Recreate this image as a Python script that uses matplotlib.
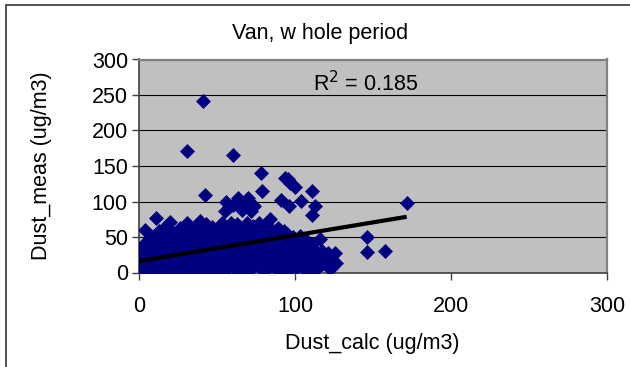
import matplotlib
matplotlib.use("Agg")
import matplotlib.pyplot as plt
from matplotlib.patches import Rectangle

plt.rcParams['font.family'] = ['Liberation Sans', 'DejaVu Sans']

title = "Van, w hole period"
x_label = "Dust_calc (ug/m3)"
y_label = "Dust_meas (ug/m3)"
r2_text = "R$^2$ = 0.185"
x_ticks = [0, 100, 200, 300]
y_ticks = [0, 50, 100, 150, 200, 250, 300]

# dense cluster of points
cluster_x = [1, 1, 1, 1, 2, 2, 2, 3, 3, 4, 4, 6, 6, 6, 8, 8, 8, 8, 10, 10,
             11, 13, 13, 13, 13, 15, 15, 15, 17, 17, 17, 17, 19, 19, 20, 20, 20,
             22, 22, 22, 24, 24, 24, 26, 26, 26, 27, 27, 29, 29, 29, 31, 31, 31,
             33, 33, 33, 35, 35, 35, 37, 37, 37, 39, 39, 39, 39, 41, 41, 41,
             43, 43, 43, 45, 45, 45, 47, 47, 47, 49, 49, 49, 51, 51, 51,
             53, 53, 53, 55, 55, 55, 57, 57, 57, 59, 59, 59, 61, 61, 61,
             63, 63, 63, 65, 65, 65, 67, 67, 67, 69, 69, 69, 71, 71, 71,
             73, 73, 73, 75, 75, 75, 77, 77, 77, 79, 79, 79, 81, 81, 81,
             83, 83, 83, 85, 85, 85, 87, 87, 87, 89, 89, 89, 91, 91, 91,
             93, 93, 93, 95, 95, 95, 97, 97, 97, 99, 99, 99, 101, 101, 101,
             103, 103, 103, 105, 105, 105, 107, 107, 107, 109, 109, 109,
             111, 111, 111, 113, 113, 113, 115, 117, 117, 119, 119, 121, 121,
             123, 123, 126]
cluster_y = [3, 12, 22, 33, 8, 18, 28, 0, 40, 14, 25, 5, 30, 45, 2, 20, 38, 52, 10, 28,
             47, 4, 18, 36, 58, 12, 26, 44, 2, 34, 52, 65, 20, 8, 71, 42, 28,
             14, 56, 3, 34, 48, 22, 6, 62, 40, 30, 15, 52, 0, 24, 70, 38, 10,
             18, 46, 60, 28, 4, 54, 12, 40, 66, 73, 22, 50, 2, 34, 60, 8,
             16, 46, 68, 26, 56, 4, 38, 64, 14, 0, 50, 24, 32, 62, 10,
             44, 18, 70, 54, 28, 2, 38, 64, 12, 22, 48, 70, 6, 58, 32,
             42, 16, 68, 26, 52, 0, 36, 62, 10, 46, 20, 70, 56, 30, 4,
             40, 14, 66, 24, 50, 60, 34, 8, 70, 44, 18, 58, 28, 64, 2,
             52, 12, 38, 22, 60, 46, 32, 6, 56, 42, 16, 62, 26, 50, 0,
             36, 10, 58, 20, 46, 54, 30, 4, 40, 14, 50, 24, 36, 8, 44,
             18, 28, 52, 40, 6, 22, 30, 12, 46, 20, 36, 2,
             26, 40, 10, 16, 32, 3.5, 22, 12, 30, 24, 18, 8, 28,
             6, 20, 14]

# scattered higher points
outlier_x = [40.8, 30.8, 60.3, 78, 42.3, 79, 93.6, 95.5, 97, 100, 111, 104, 91, 96,
             113, 110.7, 56, 63.5, 70, 74, 55, 66, 60, 67, 72, 58, 84, 11, 4,
             146, 146, 158, 171.6, 116, 125.6, 123]
outlier_y = [242, 171, 165, 140, 109, 115, 133, 132, 126, 120, 115, 101, 102, 93,
             94, 81, 100, 105, 105, 93, 86, 88, 95, 97, 86, 92, 76, 77, 60,
             50, 29, 30, 98, 47, 27, 6]

trend_slope = 0.364
trend_intercept = 16.0

FS = 15.5

fig = plt.figure(figsize=(6.3, 3.67), dpi=100)
fig.patches.append(Rectangle((6 / 630, -0.1), 1.2, 1 - 5 / 367 + 0.1,
                             transform=fig.transFigure, fill=False,
                             edgecolor='#333333', linewidth=1.2))
ax = fig.add_axes([139 / 630, 1 - 272.5 / 367, 468 / 630, 213 / 367])
ax.set_facecolor('#C0C0C0')

all_x = cluster_x + outlier_x
all_y = cluster_y + outlier_y
ax.plot(all_x, all_y, linestyle='none', marker='D', markersize=7.0,
        color='#000080', markeredgecolor='#000080', markeredgewidth=0.5, zorder=3)

x_max = max(all_x)
ax.plot([0, x_max], [trend_intercept, trend_intercept + trend_slope * x_max],
        color='black', linewidth=3.0, zorder=4, solid_capstyle='butt')

ax.set_xlim(0, 300)
ax.set_ylim(0, 300)
ax.set_xticks(x_ticks)
ax.set_yticks(y_ticks)
ax.yaxis.grid(True, color='black', linewidth=0.8)
ax.set_axisbelow(True)
ax.tick_params(direction='out', length=5, width=1, color='#404040',
               labelsize=FS, labelcolor='black')
ax.tick_params(axis='x', pad=12)
ax.tick_params(axis='y', pad=3)
for side in ['left', 'bottom']:
    ax.spines[side].set_color('#404040')
    ax.spines[side].set_linewidth(1.2)
for side in ['top', 'right']:
    ax.spines[side].set_color('#808080')
    ax.spines[side].set_linewidth(1.6)

ax.text(111.5, 266, r2_text, fontsize=FS, ha='left', va='center', zorder=5)
fig.text(320 / 630, 1 - 33 / 367, title, fontsize=FS, ha='center', va='center')
fig.text(372.5 / 630, 1 - 344 / 367, x_label, fontsize=FS, ha='center', va='center')
fig.text(42 / 630, 1 - 166 / 367, y_label, fontsize=FS, ha='center', va='center',
         rotation=90)

fig.savefig('out.png', dpi=100)
